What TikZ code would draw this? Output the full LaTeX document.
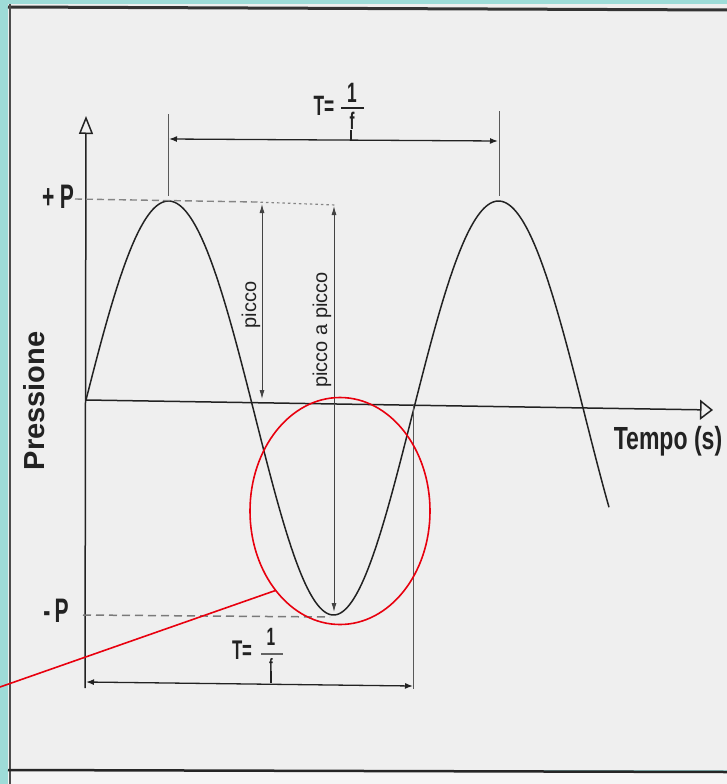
\documentclass[tikz,border=0pt]{standalone}
\usepackage{fontspec}
\setmainfont{Liberation Sans}
\usetikzlibrary{arrows.meta,shapes.geometric}
\definecolor{bgteal}{HTML}{9EDCD8}
\definecolor{paper}{HTML}{EFEFEF}
\definecolor{ink}{HTML}{222222}
\definecolor{redmark}{HTML}{E8000E}
\newcommand{\cond}[1]{\scalebox{0.62}[1]{#1}}
\newcommand{\condb}[1]{\scalebox{0.72}[1]{#1}}
\begin{document}
\begin{tikzpicture}[x=1pt,y=-1pt,
  lbl/.style={inner sep=0pt, text=ink},
  axisline/.style={draw=ink, line width=1.5pt},
  extline/.style={draw=ink!75, line width=0.9pt},
  dimline/.style={draw=ink, line width=1.3pt, {Latex[length=8pt,width=6pt]}-{Latex[length=8pt,width=6pt]}},
  thindim/.style={draw=ink!85, line width=0.9pt, {Latex[length=9pt,width=5pt]}-{Latex[length=9pt,width=5pt]}},
  dashA/.style={draw=ink!55, line width=1.4pt, dash pattern=on 7pt off 4pt},
  dashB/.style={draw=ink!55, line width=1.2pt, dash pattern=on 2.5pt off 3pt},
]
\useasboundingbox (0,0) rectangle (727,784);
% background and scanned page
\fill[bgteal] (0,0) rectangle (727,784);
\fill[paper] (8,4) rectangle (727,770);
\fill[black!4] (8,771) rectangle (727,784);
\draw[black!80, line width=3pt] (8,7) -- (727,10);
\draw[black!70, line width=2pt] (10,4) -- (10,784);
\draw[black!85, line width=2.5pt] (8,770) -- (727,772);

% axes
\coordinate (ybot) at (85,688);
\coordinate (ytop) at (86,116);
\coordinate (orig) at (86,400);
\coordinate (xend) at (713,410);
\draw[axisline, -{Triangle[open,length=18pt,width=14pt]}] (ybot) -- (ytop);
\draw[axisline, -{Triangle[open,length=13pt,width=20pt]}] (orig) -- (xend);

% wave
\draw[ink, line width=1.5pt] plot[domain=86:609, samples=260, smooth]
  ({\x},{400 - 207*sin(1.090909*(\x-86)) + 8*pow(sin(1.090909*(\x-86)),2)});

% +P and -P reference lines
\draw[dashA] (75,199) -- (255,202);
\draw[dashB] (255,202) -- (336,205);
\draw[draw=ink!60, line width=1.5pt, dash pattern=on 8pt off 5pt] (83,615) -- (330,617);

% top period dimension
\coordinate (e1a) at (168,114); \coordinate (e1b) at (168,196);
\coordinate (e2a) at (499,111); \coordinate (e2b) at (499,196);
\draw[extline] (e1a) -- (e1b);
\draw[extline] (e2a) -- (e2b);
\coordinate (tl) at (169,139);
\coordinate (tr) at (498,141);
\draw[dimline] (tl) -- (tr);
\node[lbl, font=\bfseries\fontsize{28}{28}\selectfont] (tT) at (324,106) {\cond{T=}};
\node[lbl, font=\bfseries\fontsize{28}{28}\selectfont] (tone) at (352,93) {\cond{1}};
\coordinate (tb1) at (341,108); \coordinate (tb2) at (364,108);
\draw[ink, line width=1.8pt] (tb1) -- (tb2);
\node[lbl, font=\bfseries\fontsize{24}{24}\selectfont] (tf) at (352,121) {\cond{f}};
\coordinate (tk1) at (351,130); \coordinate (tk2) at (351,140);
\draw[ink, line width=1.2pt] (tk1) -- (tk2);

% bottom period dimension
\coordinate (e3a) at (413,405); \coordinate (e3b) at (413,689);
\draw[extline] (e3a) -- (e3b);
\coordinate (bl) at (86,682);
\coordinate (br) at (413,686);
\draw[dimline] (bl) -- (br);
\node[lbl, font=\bfseries\fontsize{27}{27}\selectfont] (bT) at (242,650) {\cond{T=}};
\node[lbl, font=\bfseries\fontsize{25}{25}\selectfont] (bone) at (271,637) {\cond{1}};
\coordinate (bb1) at (261,654); \coordinate (bb2) at (283,654);
\draw[ink!70, line width=1.6pt] (bb1) -- (bb2);
\node[lbl, font=\bfseries\fontsize{18}{18}\selectfont] (bf) at (271,665) {\cond{f}};
\coordinate (bk1) at (271,671); \coordinate (bk2) at (271,683);
\draw[ink, line width=1.2pt] (bk1) -- (bk2);

% picco and picco a picco
\coordinate (p1a) at (262,204); \coordinate (p1b) at (262,399);
\draw[thindim] (p1a) -- (p1b);
\node[lbl, rotate=90, font=\fontsize{20}{20}\selectfont] (picco) at (251,305) {picco};
\coordinate (p2a) at (334,206); \coordinate (p2b) at (334,612);
\draw[thindim] (p2a) -- (p2b);
\node[lbl, rotate=90, font=\fontsize{20}{20}\selectfont] (pap) at (322,330) {picco a picco};

% axis labels
\node[lbl, font=\bfseries\fontsize{34}{34}\selectfont] (plus) at (58,197) {\cond{+\hspace{9pt}P}};
\node[lbl, font=\bfseries\fontsize{34}{34}\selectfont] (minus) at (56,611) {\cond{-\hspace{7pt}P}};
\node[lbl, rotate=90, font=\bfseries\fontsize{29}{29}\selectfont] (press) at (34,401) {Pressione};
\node[lbl, font=\bfseries\fontsize{32}{32}\selectfont] (tempo) at (668,441) {\condb{Tempo (s)}};

% red annotation
\node[draw=redmark, line width=1.6pt, ellipse, inner sep=0pt, outer sep=0pt,
      minimum width=180pt, minimum height=227pt] (circ) at (340,511) {};
\coordinate (redend) at (0,687);
\draw[redmark, line width=1.6pt] (redend) -- (circ.231);
\end{tikzpicture}
\end{document}
